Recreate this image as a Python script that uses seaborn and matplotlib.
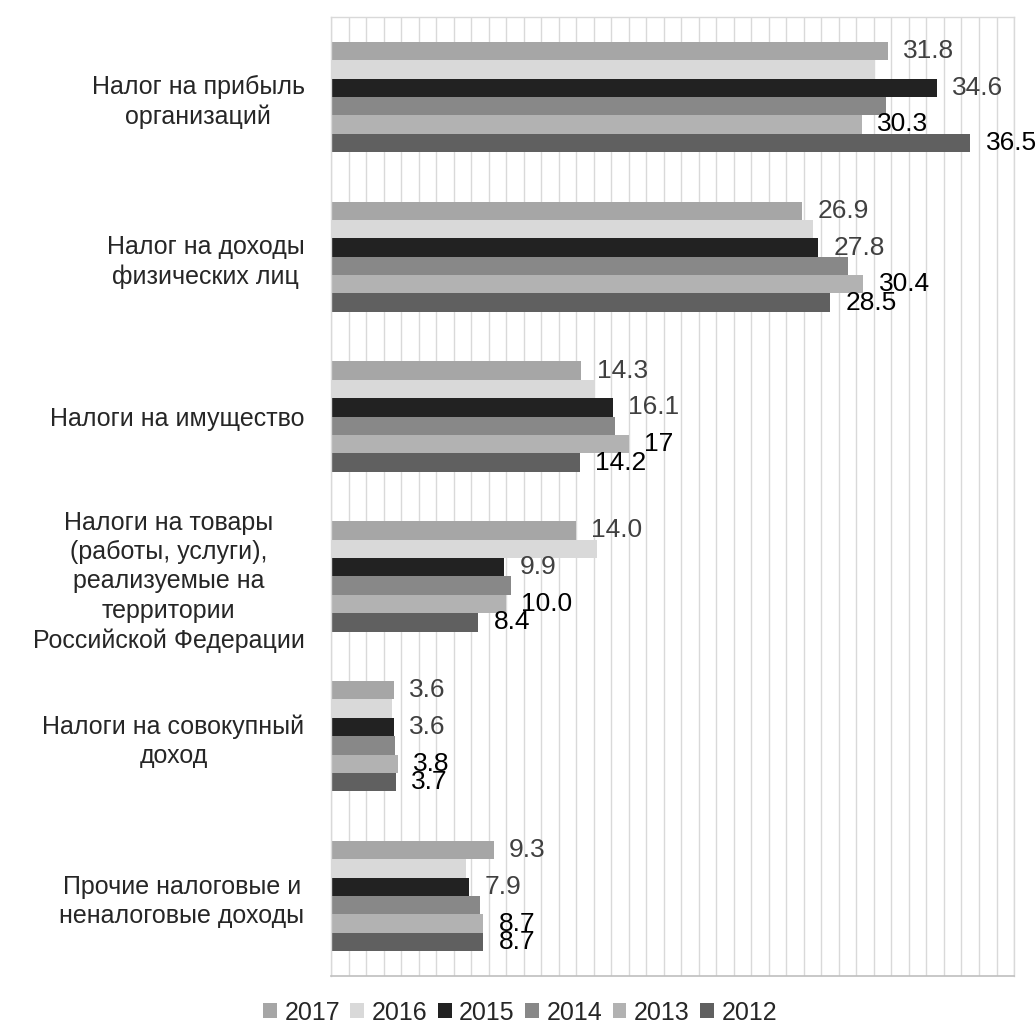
import numpy as np
import pandas as pd
import matplotlib
matplotlib.use("Agg")
import matplotlib.pyplot as plt
import seaborn as sns

# data
categories = [
    "Налог на прибыль\nорганизаций",
    "Налог на доходы\nфизических лиц",
    "Налоги на имущество",
    "Налоги на товары\n(работы, услуги),\nреализуемые на\nтерритории\nРоссийской Федерации",
    "Налоги на совокупный\nдоход",
    "Прочие налоговые и\nненалоговые доходы",
]
years = ["2017", "2016", "2015", "2014", "2013", "2012"]
v2017 = [31.8, 26.9, 14.3, 14.0, 3.6, 9.3]
v2016 = [31.0, 27.5, 15.1, 15.2, 3.5, 7.7]
v2015 = [34.6, 27.8, 16.1, 9.9, 3.6, 7.9]
v2014 = [31.7, 29.5, 16.2, 10.3, 3.65, 8.5]
v2013 = [30.3, 30.4, 17.0, 10.0, 3.8, 8.7]
v2012 = [36.5, 28.5, 14.2, 8.4, 3.7, 8.7]

# value labels shown on the chart (only some series carry them)
lab2017 = ["31.8", "26.9", "14.3", "14.0", "3.6", "9.3"]
lab2015 = ["34.6", "27.8", "16.1", "9.9", "3.6", "7.9"]
lab2013 = ["30.3", "30.4", "17", "10.0", "3.8", "8.7"]
lab2012 = ["36.5", "28.5", "14.2", "8.4", "3.7", "8.7"]

colors = ["#A6A6A6", "#D9D9D9", "#222222", "#888888", "#B2B2B2", "#606060"]

series = [v2017, v2016, v2015, v2014, v2013, v2012]
df = pd.DataFrame({
    "category": categories * len(years),
    "year": [y for y in years for _ in categories],
    "value": [v for s in series for v in s],
})

sns.set_theme(style="white")
plt.rcParams["font.family"] = ["Liberation Sans", "DejaVu Sans"]

fig = plt.figure(figsize=(10.36, 10.29), dpi=100)
ax = fig.add_axes([0.3195, 0.0515, 0.6593, 0.9320])

sns.barplot(
    data=df, y="category", x="value", hue="year",
    hue_order=years, order=categories, palette=colors,
    width=0.69, saturation=1, linewidth=0, orient="h", ax=ax,
)

# value labels
label_sets = {0: (lab2017, "#404040"), 2: (lab2015, "#404040"),
              4: (lab2013, "black"), 5: (lab2012, "black")}
for idx, (labs, col) in label_sets.items():
    ax.bar_label(ax.containers[idx], labels=labs, padding=11,
                 fontsize=19, color=col)

ax.set_xlim(0, 39)
ax.set_xticks(np.arange(0, 40, 1))
ax.set_xticklabels([])
ax.tick_params(axis="x", length=0)
ax.tick_params(axis="y", length=0, pad=19, labelsize=18)
for t in ax.get_yticklabels():
    t.set_multialignment("center")
    t.set_linespacing(1.28)
ax.xaxis.grid(True, color="#D9D9D9", linewidth=1.0)
ax.set_axisbelow(True)
ax.set_xlabel("")
ax.set_ylabel("")
for side in ["left", "top", "right"]:
    ax.spines[side].set_color("#D9D9D9")
    ax.spines[side].set_linewidth(1.0)
ax.spines["bottom"].set_color("#BFBFBF")
ax.spines["bottom"].set_linewidth(1.2)

handles, labels = ax.get_legend_handles_labels()
ax.legend(handles, labels, loc="center", bbox_to_anchor=(0.502, 0.016),
          bbox_transform=fig.transFigure, ncol=6, frameon=False,
          fontsize=18, handlelength=0.55, handleheight=0.55,
          handletextpad=0.3, columnspacing=0.42, borderpad=0)

fig.savefig("out.png", dpi=100)
